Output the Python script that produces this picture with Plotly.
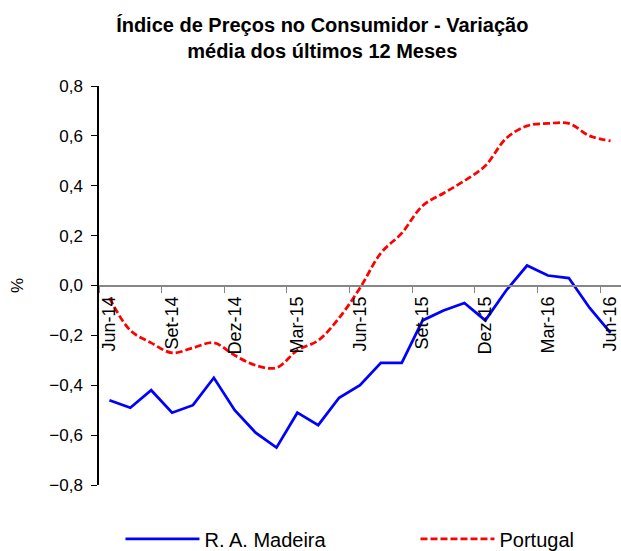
import plotly.graph_objects as go

months = ["Jun-14", "Jul-14", "Ago-14", "Set-14", "Out-14", "Nov-14", "Dez-14",
          "Jan-15", "Fev-15", "Mar-15", "Abr-15", "Mai-15", "Jun-15", "Jul-15",
          "Ago-15", "Set-15", "Out-15", "Nov-15", "Dez-15", "Jan-16", "Fev-16",
          "Mar-16", "Abr-16", "Mai-16", "Jun-16"]

madeira = [-0.46, -0.49, -0.42, -0.51, -0.48, -0.37, -0.50, -0.59, -0.65, -0.51,
           -0.56, -0.45, -0.40, -0.31, -0.31, -0.14, -0.10, -0.07, -0.14, -0.02,
           0.08, 0.04, 0.03, -0.09, -0.19]

portugal = [-0.05, -0.18, -0.23, -0.27, -0.25, -0.23, -0.28, -0.32, -0.33, -0.26,
            -0.22, -0.13, -0.01, 0.13, 0.21, 0.32, 0.37, 0.42, 0.48, 0.59,
            0.64, 0.65, 0.65, 0.60, 0.58]

y_ticks = [-0.8, -0.6, -0.4, -0.2, 0.0, 0.2, 0.4, 0.6, 0.8]

FONT = "Liberation Sans, Arial, sans-serif"

fig = go.Figure()
fig.add_trace(go.Scatter(x=months, y=madeira, mode="lines", name="R. A. Madeira",
                         line=dict(color="#0000FF", width=2.75)))
fig.add_trace(go.Scatter(x=months, y=portugal, mode="lines", name="Portugal",
                         line=dict(color="#FF0000", width=2.75, dash="7px,3px",
                                   shape="spline", smoothing=1)))

fig.update_layout(
    width=621, height=551,
    margin=dict(l=99, r=0, t=86, b=66, autoexpand=False),
    paper_bgcolor="white", plot_bgcolor="white",
    separators=", ",
    font=dict(family=FONT, color="black", size=17),
    title=dict(text="Índice de Preços no Consumidor - Variação<br>média dos últimos 12 Meses",
               font=dict(family=FONT, size=20, color="black", weight="bold"),
               x=0.519, xref="container", xanchor="center",
               y=1 - 32 / 551, yref="container", yanchor="top"),
    showlegend=True,
    legend=dict(orientation="h", x=-0.001, xanchor="left", y=-0.135, yanchor="middle",
                font=dict(family=FONT, size=20, color="black"),
                itemwidth=74, entrywidth=184, entrywidthmode="pixels",
                indentation=22, bgcolor="rgba(0,0,0,0)"),
    xaxis=dict(type="category", range=[-0.5, 24.5], anchor="free", position=0.5,
               tickmode="linear", tick0=0, dtick=3, tickson="boundaries",
               ticks="outside", ticklen=7, tickcolor="#868686", tickwidth=1,
               showline=True, linecolor="#868686", linewidth=1.5,
               showgrid=False, zeroline=False, tickangle=-90, ticklabelstandoff=3,
               tickfont=dict(family=FONT, size=18, color="black")),
    yaxis=dict(range=[-0.8, 0.8], tickvals=y_ticks, tickformat=".1f",
               ticks="outside", ticklen=6, tickcolor="black",
               showline=True, linecolor="black", linewidth=1.5,
               showgrid=False, zeroline=False, ticklabelstandoff=5,
               tickfont=dict(family=FONT, size=17, color="black"),
               title=dict(text="%", standoff=21, font=dict(family=FONT, size=17))),
)

fig.write_html("out.html", config={"displayModeBar": False},
               post_script="document.body.style.margin='0';document.body.style.padding='0';")
